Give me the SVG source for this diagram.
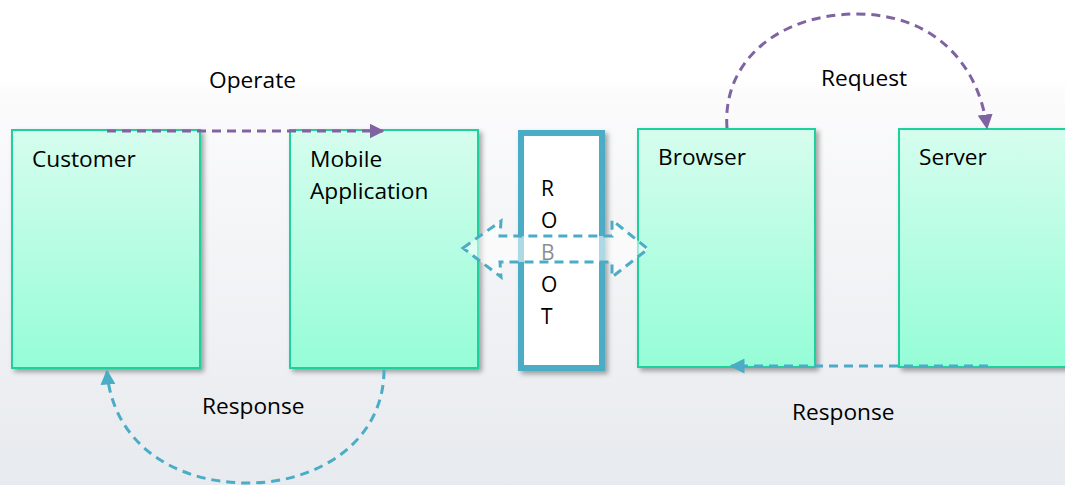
<svg xmlns="http://www.w3.org/2000/svg" width="1065" height="485" viewBox="0 0 1065 485">
<defs>
<linearGradient id="bg" x1="0" y1="0" x2="0" y2="1">
<stop offset="0" stop-color="#ffffff"/>
<stop offset="0.16" stop-color="#ffffff"/>
<stop offset="0.2" stop-color="#fbfbfc"/>
<stop offset="1" stop-color="#e7eaee"/>
</linearGradient>
<linearGradient id="box" x1="0" y1="0" x2="0" y2="1">
<stop offset="0" stop-color="#d6fdee"/>
<stop offset="1" stop-color="#95fdd7"/>
</linearGradient>
<filter id="sh" x="-10%" y="-10%" width="130%" height="130%">
<feDropShadow dx="3" dy="3" stdDeviation="2.5" flood-color="#000" flood-opacity="0.35"/>
</filter>
<marker id="ap" viewBox="0 0 10 10" refX="9" refY="5" markerWidth="5" markerHeight="5" orient="auto" markerUnits="strokeWidth">
<path d="M0,0 L10,5 L0,10 z" fill="#8064a2"/>
</marker>
<marker id="ab" viewBox="0 0 10 10" refX="9" refY="5" markerWidth="5" markerHeight="5" orient="auto" markerUnits="strokeWidth">
<path d="M0,0 L10,5 L0,10 z" fill="#4bacc6"/>
</marker>
</defs>
<style>
.box{fill:url(#box);stroke:#1ad19c;stroke-width:2;filter:url(#sh)}
.t{font-family:"Open Sans","Liberation Sans",sans-serif;font-size:22.7px;fill:#000}
.r{font-family:"Open Sans","Liberation Sans",sans-serif;font-size:21px;fill:#000}
.p{fill:none;stroke:#8064a2;stroke-width:3;stroke-dasharray:9 6}
.b{fill:none;stroke:#4bacc6;stroke-width:3;stroke-dasharray:9 6}
</style>
<rect width="1065" height="485" fill="url(#bg)"/>
<g id="customer">
<rect class="box" x="12" y="130" width="188" height="238"/>
<text class="t" x="32" y="167">Customer</text>
</g>
<g id="mobile">
<rect class="box" x="290" y="130" width="188" height="238"/>
<text class="t" x="310" y="167">Mobile</text>
<text class="t" x="310" y="199">Application</text>
</g>
<g id="robot">
<rect x="521" y="133" width="81" height="235" fill="#fff" stroke="#4bacc6" stroke-width="6" filter="url(#sh)"/>
<text class="r" x="541" y="196">R</text>
<text class="r" x="541" y="228">O</text>
<text class="r" x="541" y="260">B</text>
<text class="r" x="541" y="292">O</text>
<text class="r" x="541" y="324">T</text>
</g>
<g id="browser">
<rect class="box" x="638" y="129" width="177" height="238"/>
<text class="t" x="658" y="165">Browser</text>
</g>
<g id="server">
<rect class="box" x="899" y="129" width="180" height="238"/>
<text class="t" x="919" y="165">Server</text>
</g>
<g id="connectors">
<path class="p" d="M107,131 H383" marker-end="url(#ap)"/>
<path class="p" d="M727,128 C722,60 780,14 857,14 C930,14 978,60 987,128" marker-end="url(#ap)"/>
<path class="b" d="M384,370 C384,440 320,483 248,483 C170,483 112,440 107,371" marker-end="url(#ab)"/>
<path class="b" d="M988,366 H731" marker-end="url(#ab)"/>
<path d="M463,248 L501,221 L500,236 L612,236 L612,220 L648,249 L612,277 L612,262 L500,262 L501,277 Z" fill="#ffffff" fill-opacity="0.55" stroke="#4bacc6" stroke-width="3" stroke-dasharray="9 6"/>
</g>
<g id="labels">
<text class="t" x="209" y="88">Operate</text>
<text class="t" x="821" y="86">Request</text>
<text class="t" x="202" y="414">Response</text>
<text class="t" x="792" y="420">Response</text>
</g>
</svg>
